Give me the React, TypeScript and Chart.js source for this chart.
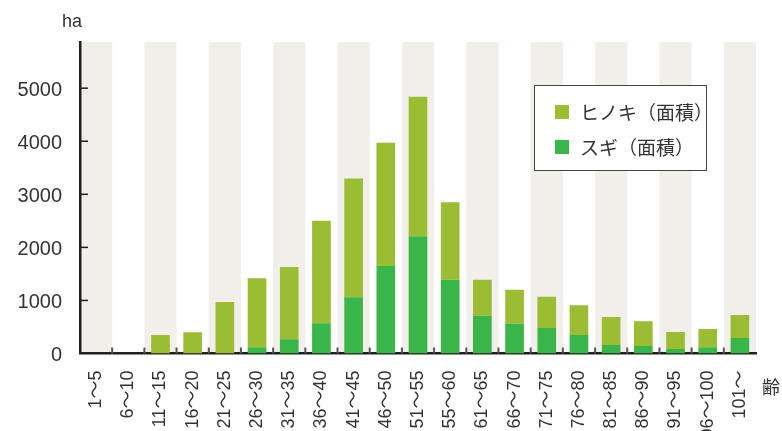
import React, { useEffect, useRef } from "react";
import { Chart, registerables } from "chart.js";

Chart.register(...registerables);

const categories = [
  "1〜5", "6〜10", "11〜15", "16〜20", "21〜25", "26〜30", "31〜35", "36〜40",
  "41〜45", "46〜50", "51〜55", "55〜60", "61〜65", "66〜70", "71〜75", "76〜80",
  "81〜85", "86〜90", "91〜95", "96〜100", "101〜",
];
const sugiValues = [0, 0, 0, 0, 0, 120, 270, 570, 1060, 1650, 2210, 1390, 710, 560, 480, 350, 160, 140, 85, 120, 290];
const hinokiValues = [0, 0, 350, 400, 970, 1300, 1360, 1930, 2240, 2320, 2630, 1460, 680, 640, 590, 560, 530, 470, 320, 340, 435];
const yTickValues = [0, 1000, 2000, 3000, 4000, 5000];
const seriesLabels = { hinoki: "ヒノキ（面積）", sugi: "スギ（面積）" };
const yUnit = "ha";
const xUnit = "齢";

const HINOKI = "#9bbd34";
const SUGI = "#3ab54a";
const BAND = "#f2efeb";
const INK = "#231f20";
const FONT = '"Liberation Sans", "Noto Sans CJK JP", sans-serif';
const JFONT = '"Noto Sans CJK JP", "Liberation Sans", sans-serif';

const decorPlugin = {
  id: "decor",
  beforeDraw(chart: any) {
    const { ctx, chartArea, scales } = chart;
    const x = scales.x;
    const half = (x.getPixelForValue(1) - x.getPixelForValue(0)) / 2;
    ctx.save();
    ctx.fillStyle = BAND;
    for (let i = 0; i < categories.length; i += 2) {
      const c = x.getPixelForValue(i);
      ctx.fillRect(c - half, chartArea.top, half * 2, chartArea.bottom - chartArea.top);
    }
    ctx.restore();
  },
  afterDraw(chart: any) {
    const { ctx, chartArea, scales } = chart;
    const x = scales.x;
    const y = scales.y;
    const half = (x.getPixelForValue(1) - x.getPixelForValue(0)) / 2;
    ctx.save();
    // y ticks inward
    ctx.strokeStyle = INK;
    ctx.lineWidth = 1.5;
    yTickValues.forEach((v) => {
      if (v === 0) return;
      const py = y.getPixelForValue(v);
      ctx.beginPath();
      ctx.moveTo(chartArea.left, py);
      ctx.lineTo(chartArea.left + 8, py);
      ctx.stroke();
    });
    // x boundary ticks inward
    ctx.strokeStyle = "#555";
    ctx.lineWidth = 2;
    for (let i = 1; i < categories.length; i++) {
      const px = x.getPixelForValue(i) - half;
      ctx.beginPath();
      ctx.moveTo(px, chartArea.bottom);
      ctx.lineTo(px, chartArea.bottom - 6);
      ctx.stroke();
    }
    // unit labels
    ctx.fillStyle = "#333";
    ctx.font = `18px ${FONT}`;
    ctx.textAlign = "center";
    ctx.textBaseline = "middle";
    ctx.fillText(yUnit, chartArea.left - 8, 22);
    ctx.font = `18px ${JFONT}`;
    ctx.textAlign = "left";
    ctx.fillText(xUnit, chartArea.right + 6, 387);

    // legend
    const bx = 534.5, by = 85.5, bw = 172, bh = 85;
    ctx.fillStyle = "#fff";
    ctx.fillRect(bx, by, bw, bh);
    ctx.strokeStyle = "#444";
    ctx.lineWidth = 1;
    ctx.strokeRect(bx, by, bw, bh);
    const items = [
      { label: chart.data.datasets[1].label, color: chart.data.datasets[1].backgroundColor, cy: 112 },
      { label: chart.data.datasets[0].label, color: chart.data.datasets[0].backgroundColor, cy: 147 },
    ];
    ctx.font = `19px ${JFONT}`;
    ctx.textBaseline = "middle";
    items.forEach((it) => {
      ctx.fillStyle = it.color;
      ctx.fillRect(555, it.cy - 7, 14, 14);
      ctx.fillStyle = "#333";
      ctx.fillText(it.label, 580, it.cy + 1);
    });
    ctx.restore();
  },
};

export default function App() {
  const ref = useRef<HTMLCanvasElement | null>(null);
  useEffect(() => {
    if (!ref.current) return;
    const chart = new Chart(ref.current, {
      type: "bar",
      data: {
        labels: categories,
        datasets: [
          { label: seriesLabels.sugi, data: sugiValues, backgroundColor: SUGI, borderWidth: 0 },
          { label: seriesLabels.hinoki, data: hinokiValues, backgroundColor: HINOKI, borderWidth: 0 },
        ],
      },
      options: {
        animation: false,
        responsive: true,
        maintainAspectRatio: false,
        layout: { padding: { left: 0, right: 26, top: 42, bottom: 0 } },
        datasets: { bar: { barPercentage: 0.58, categoryPercentage: 1 } },
        plugins: { legend: { display: false }, tooltip: { enabled: false } },
        scales: {
          x: {
            stacked: true,
            grid: { display: false, drawTicks: false },
            border: { display: true, color: INK, width: 2.5 },
            ticks: {
              autoSkip: false,
              minRotation: 90,
              maxRotation: 90,
              padding: 17,
              color: "#333",
              font: { family: FONT, size: 18 },
            },
            afterFit: (s: any) => { s.height = 77.5; },
          },
          y: {
            stacked: true,
            min: 0,
            max: 5870,
            grid: { display: false, drawTicks: false },
            border: { display: true, color: INK, width: 2.5 },
            ticks: {
              stepSize: 1000,
              padding: 18,
              labelOffset: 2,
              color: "#333",
              font: { family: FONT, size: 20 },
              callback: (v: any) => String(v),
            },
            afterBuildTicks: (s: any) => {
              s.ticks = yTickValues.map((v) => ({ value: v }));
            },
            afterFit: (s: any) => { s.width = 80; },
          },
        },
      },
      plugins: [decorPlugin],
    });
    return () => chart.destroy();
  }, []);
  return (
    <div style={{ position: "absolute", left: 0, top: 0, width: 782, height: 431, background: "#fff" }}>
      <canvas ref={ref} />
    </div>
  );
}
